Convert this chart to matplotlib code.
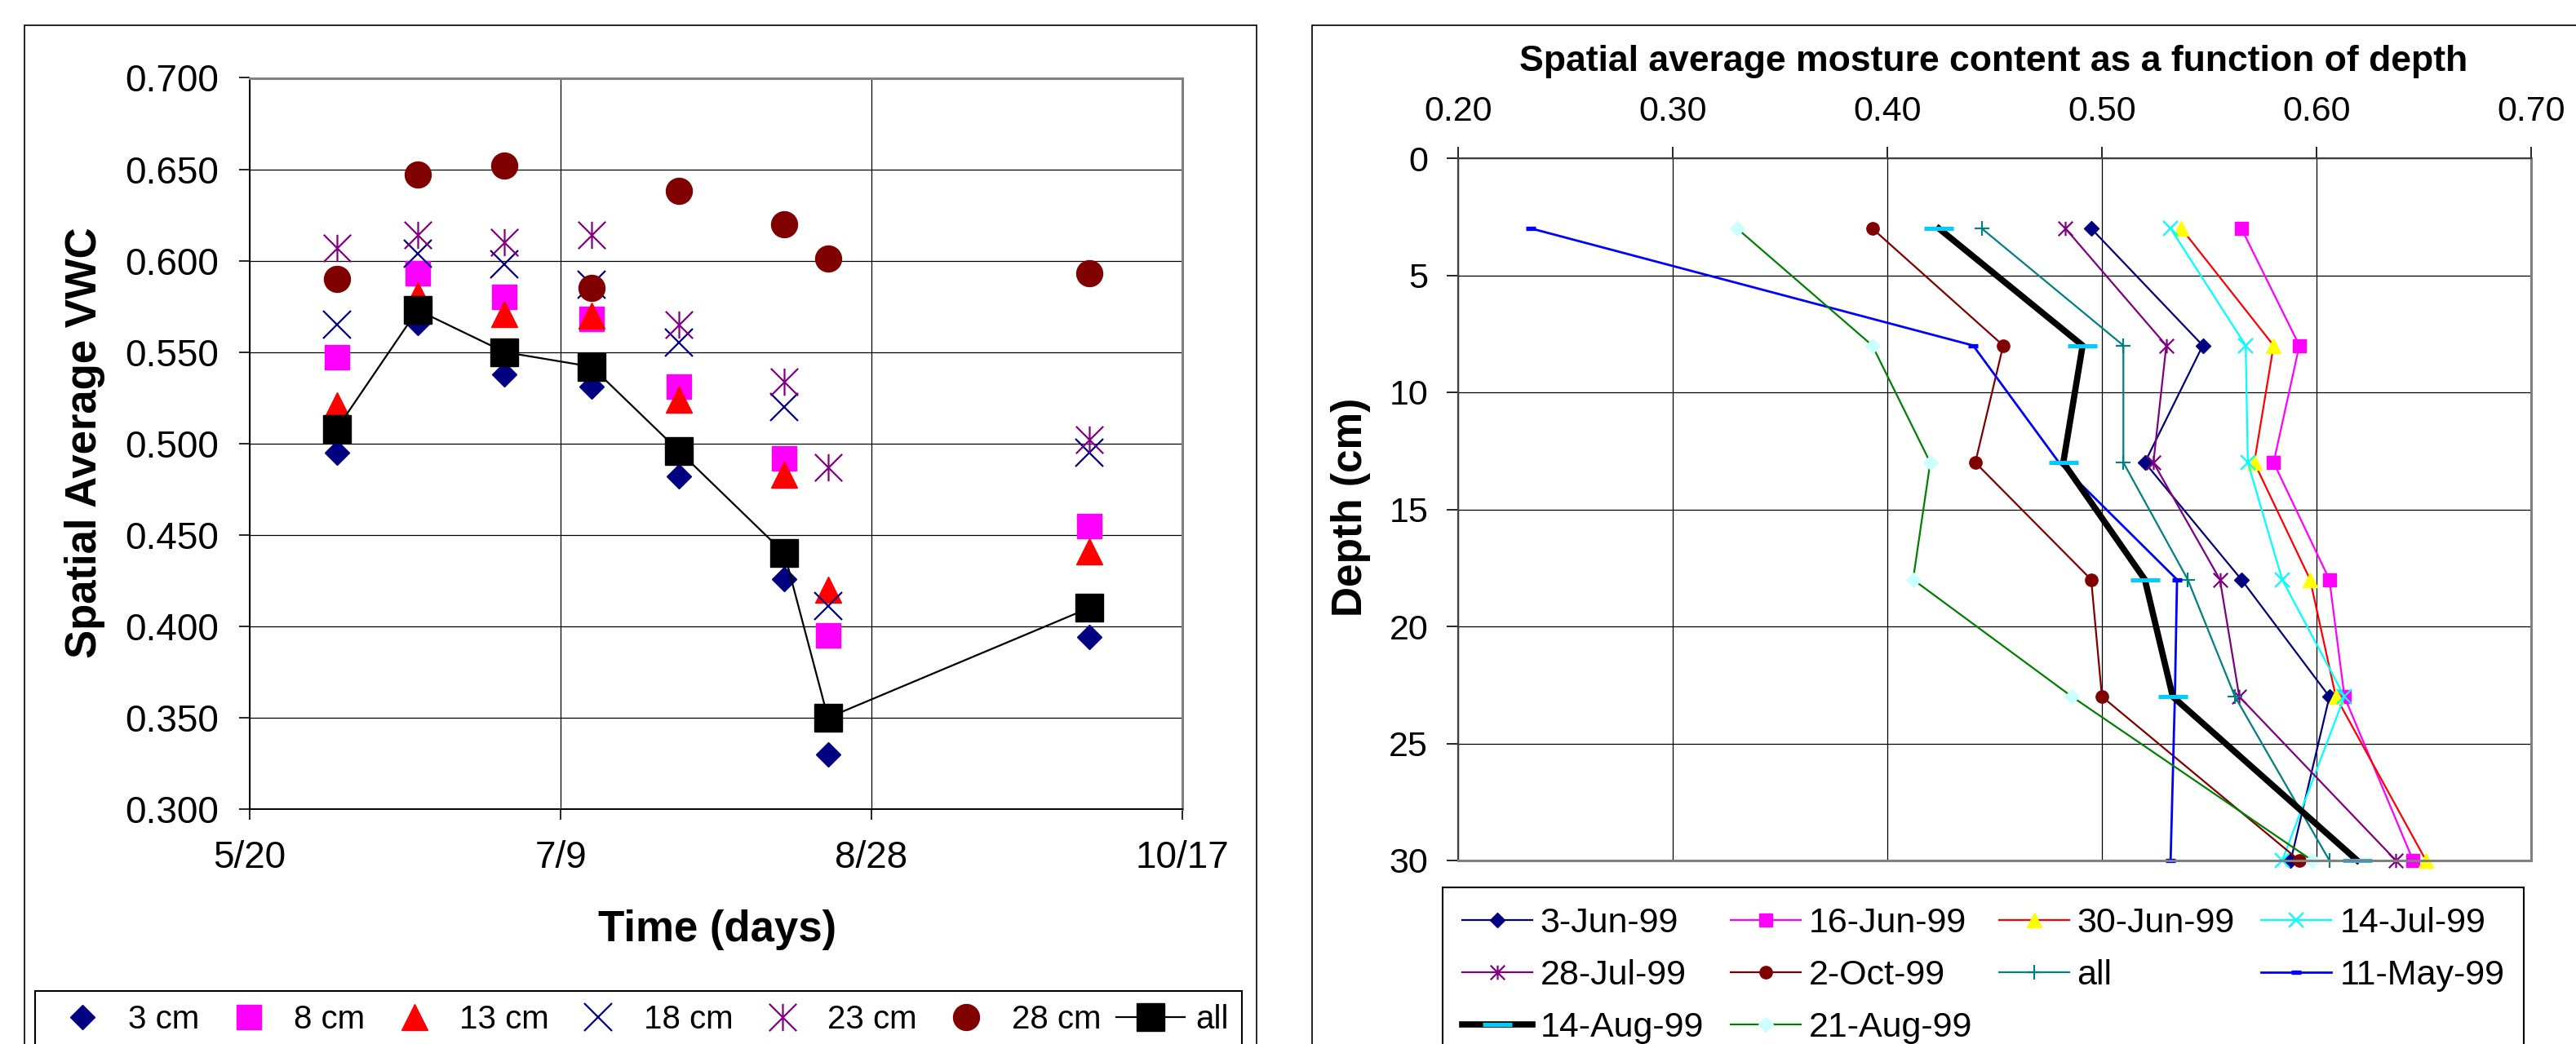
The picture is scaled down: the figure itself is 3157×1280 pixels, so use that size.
import matplotlib
matplotlib.use('Agg')
import numpy as np
import pandas as pd
import matplotlib.pyplot as plt
import matplotlib.dates as mdates
from matplotlib.path import Path
from matplotlib.patches import Rectangle
from matplotlib.ticker import FuncFormatter, MultipleLocator

plt.rcParams['font.family'] = ['Liberation Sans', 'DejaVu Sans']

# ---- left chart: spatial average VWC over time (one series per depth) ----
dates = ['1999-06-03', '1999-06-16', '1999-06-30', '1999-07-14',
         '1999-07-28', '1999-08-14', '1999-08-21', '1999-10-02']
vwc_3cm = [0.495, 0.566, 0.538, 0.531, 0.482, 0.426, 0.330, 0.394]
vwc_8cm = [0.547, 0.593, 0.580, 0.568, 0.531, 0.492, 0.395, 0.455]
vwc_13cm = [0.521, 0.581, 0.571, 0.570, 0.524, 0.483, 0.420, 0.441]
vwc_18cm = [0.565, 0.604, 0.598, 0.587, 0.555, 0.520, 0.411, 0.495]
vwc_23cm = [0.607, 0.614, 0.610, 0.614, 0.565, 0.534, 0.487, 0.502]
vwc_28cm = [0.590, 0.647, 0.652, 0.585, 0.638, 0.620, 0.601, 0.593]
vwc_all = [0.508, 0.573, 0.550, 0.542, 0.496, 0.440, 0.350, 0.410]

# ---- right chart: moisture vs depth (one series per date) ----
depths = [3, 8, 13, 18, 23, 30]
jun03 = [0.495, 0.547, 0.520, 0.565, 0.606, 0.588]
jun16 = [0.565, 0.592, 0.580, 0.606, 0.613, 0.645]
jun30 = [0.537, 0.580, 0.571, 0.597, 0.609, 0.651]
jul14 = [0.532, 0.567, 0.568, 0.584, 0.613, 0.584]
jul28 = [0.483, 0.530, 0.524, 0.555, 0.564, 0.637]
oct02 = [0.393, 0.454, 0.441, 0.495, 0.500, 0.592]
all_dates = [0.444, 0.510, 0.510, 0.540, 0.562, 0.606]
may11 = [0.234, 0.440, 0.480, 0.535, 0.534, 0.532]
aug14 = [0.424, 0.491, 0.482, 0.520, 0.533, 0.619]
aug21 = [0.330, 0.393, 0.420, 0.412, 0.486, 0.598]

W, H = 3157, 1280
fig = plt.figure(figsize=(W / 100, H / 100), dpi=100)

# excel style "star" marker (x with a vertical bar)
asterisk = Path([(-1, -1), (1, 1), (-1, 1), (1, -1), (0, -1), (0, 1)],
                [Path.MOVETO, Path.LINETO, Path.MOVETO, Path.LINETO, Path.MOVETO, Path.LINETO])

# panel frames
fig.add_artist(Rectangle((30 / W, -0.1), (1540 - 30) / W, 1.1 - 31 / H,
                         transform=fig.transFigure, fill=False, ec='black', lw=1.2))
fig.add_artist(Rectangle((1608 / W, -0.1), 0.6, 1.1 - 31 / H,
                         transform=fig.transFigure, fill=False, ec='black', lw=1.2))

# LEFT CHART
ax1 = fig.add_axes([306 / W, 1 - 992 / H, (1449 - 306) / W, (992 - 95.5) / H])
t = pd.to_datetime(dates)

ax1.plot(t, vwc_3cm, ls='none', marker='D', ms=15, color='#000080', label='3 cm')
ax1.plot(t, vwc_8cm, ls='none', marker='s', ms=22, color='#FF00FF', label='8 cm')
ax1.plot(t, vwc_13cm, ls='none', marker='^', ms=23, color='#FF0000', label='13 cm')
ax1.plot(t, vwc_18cm, ls='none', marker='x', ms=25, mew=1.6, color='#000080', label='18 cm')
ax1.plot(t, vwc_23cm, ls='none', marker=asterisk, ms=24, mew=1.6, mfc='none',
         color='#800080', label='23 cm')
ax1.plot(t, vwc_28cm, ls='none', marker='o', ms=23, color='#800000', label='28 cm')
ax1.plot(t, vwc_all, ls='-', lw=1.6, marker='s', ms=24, color='black', label='all')

ax1.set_xlim(pd.Timestamp('1999-05-20'), pd.Timestamp('1999-10-17'))
ax1.set_xticks(pd.date_range('1999-05-20', '1999-10-17', freq='50D'))
ax1.xaxis.set_major_formatter(FuncFormatter(
    lambda v, p: f"{mdates.num2date(v).month}/{mdates.num2date(v).day}"))
ax1.set_ylim(0.3, 0.7)
ax1.yaxis.set_major_locator(MultipleLocator(0.05))
ax1.yaxis.set_major_formatter(FuncFormatter(lambda v, p: f"{v:.3f}"))
ax1.grid(True, color='black', lw=0.9)
ax1.set_axisbelow(True)
ax1.tick_params(direction='out', length=9.5, width=1.2, labelsize=33, pad=18)
for s in ['left', 'bottom']:
    ax1.spines[s].set_color('black')
    ax1.spines[s].set_linewidth(1.4)
for s in ['top', 'right']:
    ax1.spines[s].set_color('#808080')
    ax1.spines[s].set_linewidth(2.2)

fig.text(104 / W, 1 - 543 / H, 'Spatial Average VWC', rotation=90, ha='center', va='center',
         fontsize=38, fontweight='bold')
fig.text(879 / W, 1 - 1140 / H, 'Time (days)', ha='center', va='center',
         fontsize=38, fontweight='bold')

leg1 = ax1.legend(loc='upper left', bbox_to_anchor=(43 / W, 1 - 1215 / H, (1522 - 43) / W, 0),
                  bbox_transform=fig.transFigure, mode='expand', ncol=7, fontsize=29,
                  frameon=True, fancybox=False, edgecolor='black', framealpha=1,
                  borderpad=0.4, borderaxespad=0, handlelength=2.1, handletextpad=0.33,
                  columnspacing=0.45)
leg1.get_frame().set_linewidth(1.5)

# RIGHT CHART
ax2 = fig.add_axes([1787 / W, 1 - 1055 / H, (3102 - 1787) / W, (1055 - 194) / H])

series = [
    ('3-Jun-99', jun03, dict(color='#000080', marker='D', ms=8.7)),
    ('16-Jun-99', jun16, dict(color='#FF00FF', marker='s', ms=11)),
    ('30-Jun-99', jun30, dict(color='#FF0000', marker='^', ms=13, mfc='#FFFF00', mec='#FFFF00')),
    ('14-Jul-99', jul14, dict(color='#00FFFF', marker='x', ms=13.5, mew=1.6)),
    ('28-Jul-99', jul28, dict(color='#800080', marker=asterisk, ms=12.6, mew=1.6, mfc='none')),
    ('2-Oct-99', oct02, dict(color='#800000', marker='o', ms=11)),
    ('all', all_dates, dict(color='#008080', marker='+', ms=12.6, mew=1.6)),
    ('11-May-99', may11, dict(color='#0000FF', marker='_', ms=8, mew=3.8, lw=2.0)),
    ('14-Aug-99', aug14, dict(color='black', marker='_', ms=26, mew=3.6, mec='#00CCFF', lw=5.5)),
    ('21-Aug-99', aug21, dict(color='#008000', marker='D', ms=9, mfc='#CCFFFF', mec='#CCFFFF')),
]
lines = {}
for name, vals, kw in series:
    kw.setdefault('lw', 1.6)
    lines[name], = ax2.plot(vals, depths, label=name, clip_on=False, **kw)

ax2.set_xlim(0.2, 0.7)
ax2.set_ylim(30, 0)
ax2.xaxis.set_major_locator(MultipleLocator(0.1))
ax2.xaxis.set_major_formatter(FuncFormatter(lambda v, p: f"{v:.2f}"))
ax2.yaxis.set_major_locator(MultipleLocator(5))
ax2.xaxis.tick_top()
ax2.grid(True, color='black', lw=0.9)
ax2.set_axisbelow(True)
ax2.tick_params(direction='out', length=10, width=1.2, labelsize=31)
ax2.tick_params(axis='x', pad=17)
ax2.tick_params(axis='y', pad=16.5)
for s in ['top', 'left']:
    ax2.spines[s].set_color('#404040')
    ax2.spines[s].set_linewidth(1.6)
for s in ['bottom', 'right']:
    ax2.spines[s].set_color('#808080')
    ax2.spines[s].set_linewidth(2.2)

fig.text(2443 / W, 1 - 75 / H, 'Spatial average mosture content as a function of depth',
         ha='center', va='center', fontsize=32, fontweight='bold')
fig.text(1655 / W, 1 - 622 / H, 'Depth (cm)', rotation=90, ha='center', va='center',
         fontsize=37, fontweight='bold')

# matplotlib fills legend columns first, so reorder to get excel's row order
order = ['3-Jun-99', '28-Jul-99', '14-Aug-99', '16-Jun-99', '2-Oct-99', '21-Aug-99',
         '30-Jun-99', 'all', '14-Jul-99', '11-May-99']
leg2 = ax2.legend([lines[n] for n in order], order, loc='upper left',
                  bbox_to_anchor=(1768 / W, 1 - 1088 / H, (3093 - 1768) / W, 0),
                  bbox_transform=fig.transFigure, mode='expand', ncol=4, fontsize=31,
                  frameon=True, fancybox=False, edgecolor='black', framealpha=1,
                  borderpad=0.55, borderaxespad=0, handlelength=2.0, handletextpad=0.23,
                  labelspacing=0.56, columnspacing=0.7)
leg2.get_frame().set_linewidth(1.5)

fig.savefig('out.png', dpi=100)
